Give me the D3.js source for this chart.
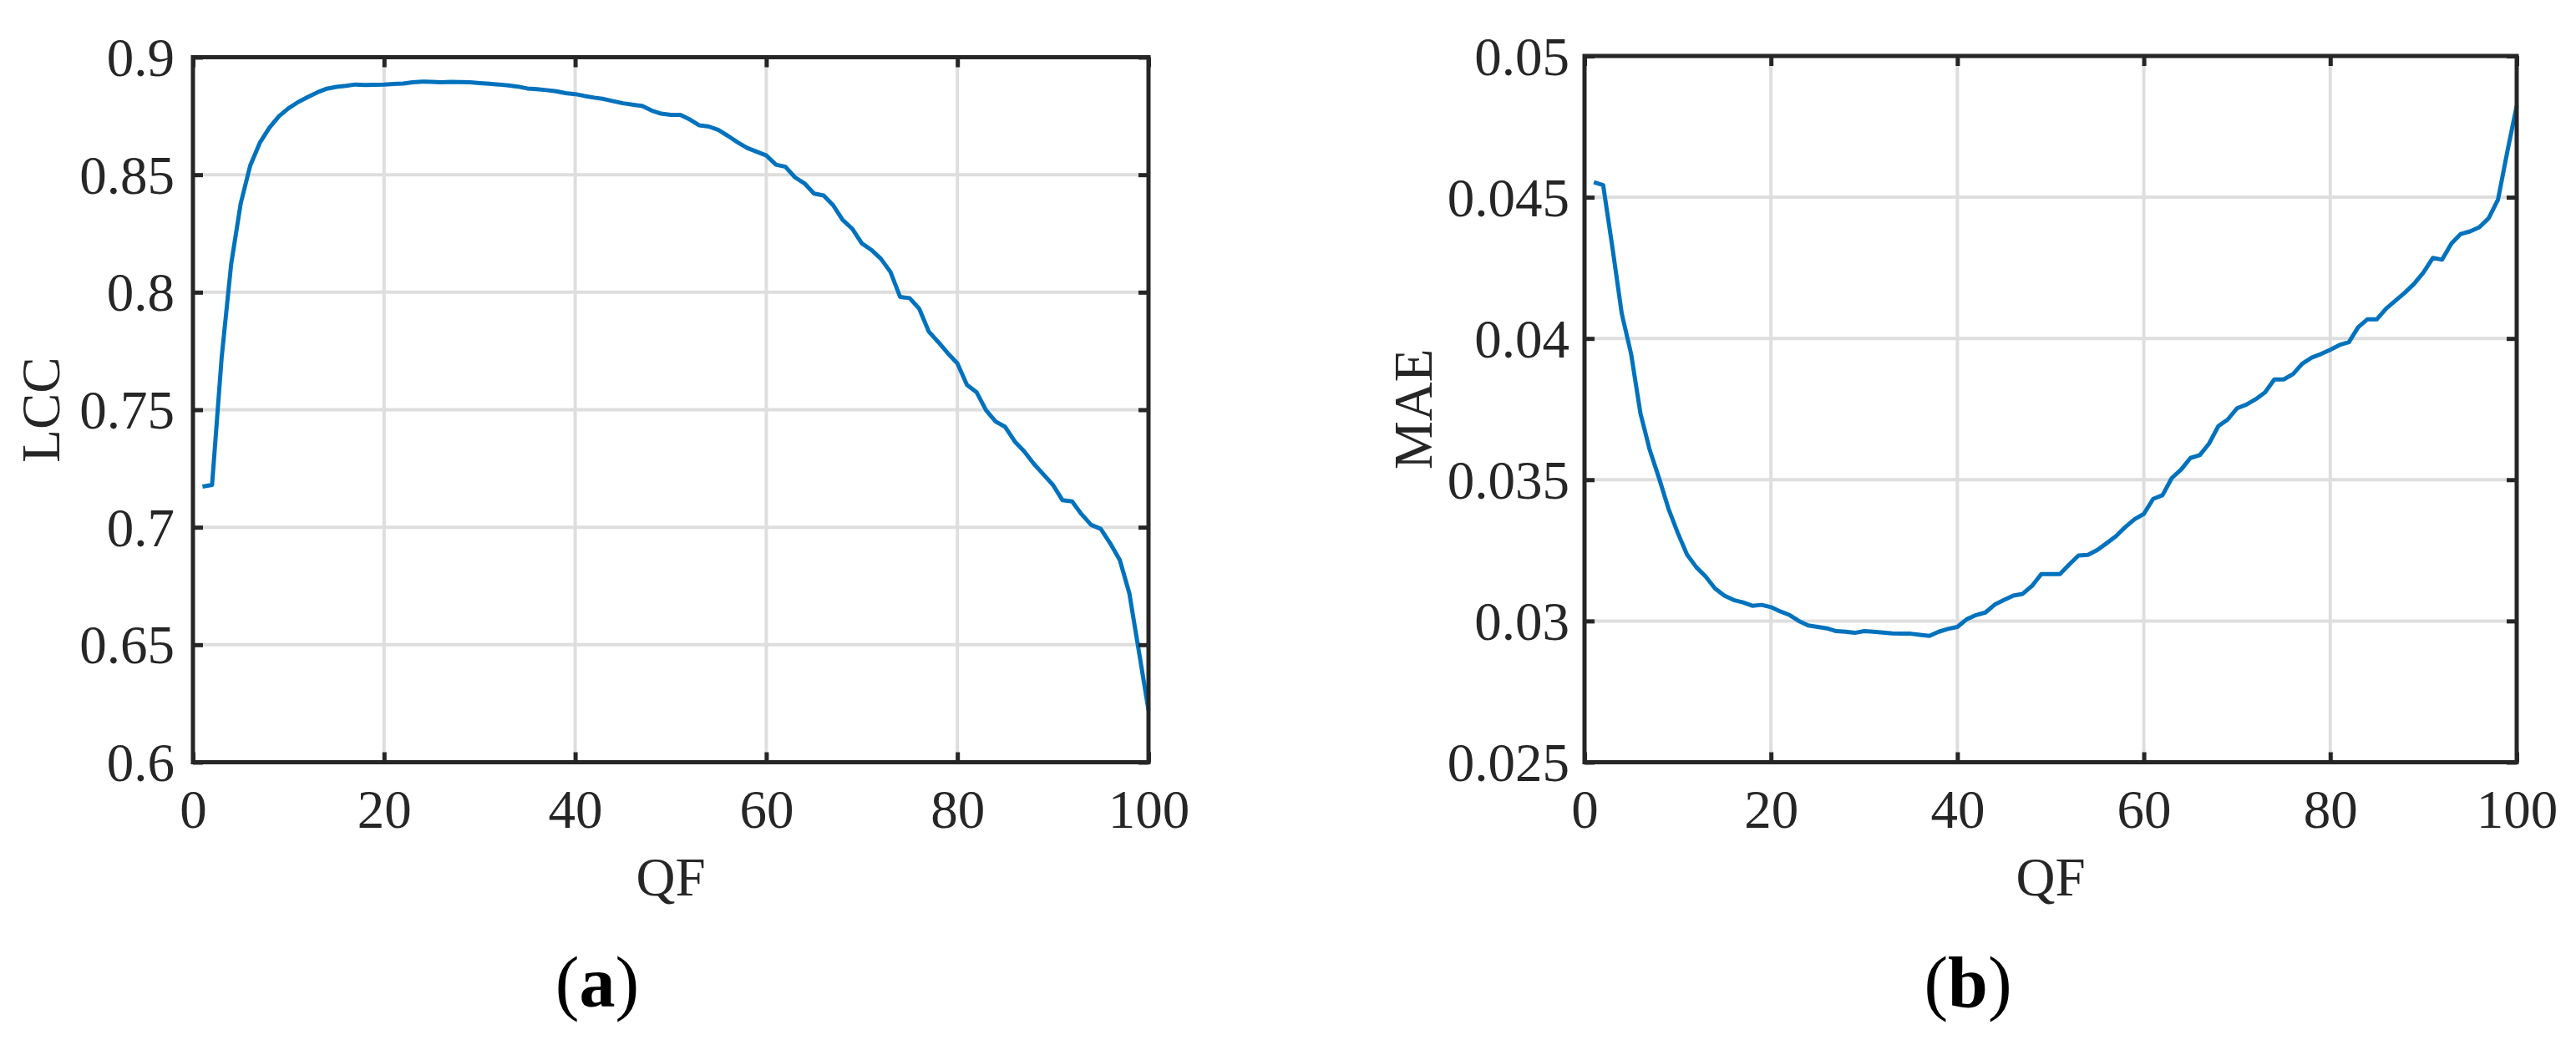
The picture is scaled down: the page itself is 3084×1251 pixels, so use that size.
<!DOCTYPE html>
<html>
  <head>
    <meta charset="utf-8">
    <title>LCC and MAE versus QF</title>
    <script src="https://d3js.org/d3.v7.min.js"></script>
    <style>
      body {
        margin: 0;
        background: #fff;
      }
      text {
        font-family: "Liberation Serif", "Times New Roman", serif;
        fill: #262626;
      }
      .grid line {
        stroke: #dedede;
        stroke-width: 4;
      }
      .axis line {
        stroke: #262626;
        stroke-width: 5;
      }
      .axis path {
        display: none;
      }
      .axis text {
        font-size: 65px;
      }
      .box {
        fill: none;
        stroke: #262626;
        stroke-width: 5;
      }
      .curve {
        fill: none;
        stroke: #0072bd;
        stroke-width: 5;
        stroke-linejoin: round;
      }
    </style>
  </head>
  <body>
    <script>
      // quality factor, one sample per integer step 1..100
      var qf = d3.range(1, 101);

      // (a) linear correlation coefficient
      var lcc = [
        0.7173, 0.7180, 0.7720, 0.8120, 0.8378, 0.8540, 0.8636, 0.8700, 0.8749, 0.8783,
        0.8809, 0.8830, 0.8850, 0.8866, 0.8874, 0.8878, 0.8884, 0.8882, 0.8883, 0.8884,
        0.8886, 0.8888, 0.8893, 0.8896, 0.8895, 0.8893, 0.8895, 0.8894, 0.8893, 0.8890,
        0.8887, 0.8884, 0.8880, 0.8875, 0.8867, 0.8864, 0.8860, 0.8855, 0.8847, 0.8843,
        0.8835, 0.8828, 0.8822, 0.8813, 0.8804, 0.8798, 0.8793, 0.8773, 0.8760, 0.8755,
        0.8755, 0.8735, 0.8710, 0.8705, 0.8690, 0.8665, 0.8638, 0.8614, 0.8598, 0.8582,
        0.8543, 0.8534, 0.8489, 0.8463, 0.8420, 0.8412, 0.8370, 0.8307, 0.8270, 0.8208,
        0.8180, 0.8142, 0.8086, 0.7980, 0.7975, 0.7930, 0.7833, 0.7788, 0.7740, 0.7697,
        0.7606, 0.7575, 0.7498, 0.7450, 0.7427, 0.7365, 0.7322, 0.7270, 0.7225, 0.7180,
        0.7115, 0.7110, 0.7055, 0.7010, 0.6993, 0.6931, 0.6860, 0.6718, 0.6470, 0.6222
      ];

      // (b) mean absolute error
      var mae = [
        0.04553, 0.04543, 0.04320, 0.04087, 0.03945, 0.03735, 0.03605, 0.03505, 0.03398, 0.03312,
        0.03235, 0.03190, 0.03157, 0.03115, 0.03090, 0.03074, 0.03066, 0.03054, 0.03057, 0.03049,
        0.03034, 0.03021, 0.03000, 0.02984, 0.02979, 0.02974, 0.02964, 0.02962, 0.02958, 0.02964,
        0.02962, 0.02959, 0.02956, 0.02955, 0.02955, 0.02951, 0.02947, 0.02962, 0.02972, 0.02979,
        0.03006, 0.03021, 0.03030, 0.03058, 0.03074, 0.03090, 0.03096, 0.03124, 0.03166, 0.03166,
        0.03166, 0.03200, 0.03232, 0.03234, 0.03251, 0.03275, 0.03300, 0.03332, 0.03360, 0.03379,
        0.03432, 0.03445, 0.03506, 0.03536, 0.03577, 0.03587, 0.03628, 0.03690, 0.03713, 0.03753,
        0.03766, 0.03785, 0.03809, 0.03855, 0.03855, 0.03874, 0.03911, 0.03932, 0.03945, 0.03960,
        0.03977, 0.03987, 0.04040, 0.04068, 0.04068, 0.04106, 0.04134, 0.04162, 0.04194, 0.04234,
        0.04285, 0.04279, 0.04336, 0.04370, 0.04379, 0.04394, 0.04426, 0.04492, 0.04662, 0.04823
      ];

      // tick values
      var qfTicks = [0, 20, 40, 60, 80, 100];
      var lccTicks = [0.6, 0.65, 0.7, 0.75, 0.8, 0.85, 0.9];
      var maeTicks = [0.025, 0.03, 0.035, 0.04, 0.045, 0.05];

      var svg = d3.select("body").append("svg")
        .attr("width", 3084)
        .attr("height", 1251);

      // one matlab-like panel
      function drawPanel(p) {
        var x = d3.scaleLinear().domain([0, 100]).range([p.left, p.right]);
        var y = d3.scaleLinear().domain([p.yTicks[0], p.yTicks[p.yTicks.length - 1]])
          .range([p.bottom, p.top]);
        var g = svg.append("g");
        var fmt = function (d) { return String(+d.toFixed(3)); };

        // grid
        var grid = g.append("g").attr("class", "grid");
        grid.selectAll(".gx")
          .data(qfTicks)
          .enter().append("line")
          .attr("x1", function (d) { return x(d); })
          .attr("x2", function (d) { return x(d); })
          .attr("y1", p.top)
          .attr("y2", p.bottom);
        grid.selectAll(".gy")
          .data(p.yTicks)
          .enter().append("line")
          .attr("x1", p.left)
          .attr("x2", p.right)
          .attr("y1", function (d) { return y(d); })
          .attr("y2", function (d) { return y(d); });

        // data line
        var line = d3.line()
          .x(function (d, i) { return x(qf[i]); })
          .y(function (d) { return y(d); });
        g.append("path")
          .datum(p.values)
          .attr("class", "curve")
          .attr("d", line);

        // ticks on all four sides, pointing inward
        g.append("g")
          .attr("class", "axis")
          .attr("transform", "translate(0," + p.bottom + ")")
          .call(d3.axisBottom(x).tickValues(qfTicks).tickSize(-12).tickSizeOuter(0))
          .call(function (a) {
            a.selectAll("text").attr("y", 78).attr("dy", null);
          });
        g.append("g")
          .attr("class", "axis")
          .attr("transform", "translate(0," + p.top + ")")
          .call(d3.axisTop(x).tickValues(qfTicks).tickSize(-12).tickSizeOuter(0).tickFormat(""));
        g.append("g")
          .attr("class", "axis")
          .attr("transform", "translate(" + p.left + ",0)")
          .call(d3.axisLeft(y).tickValues(p.yTicks).tickSize(-12).tickSizeOuter(0).tickFormat(fmt))
          .call(function (a) {
            a.selectAll("text").attr("x", -p.labelGap).attr("dy", "0.34em");
          });
        g.append("g")
          .attr("class", "axis")
          .attr("transform", "translate(" + p.right + ",0)")
          .call(d3.axisRight(y).tickValues(p.yTicks).tickSize(-12).tickSizeOuter(0).tickFormat(""));

        // box
        g.append("rect")
          .attr("class", "box")
          .attr("x", p.left)
          .attr("y", p.top)
          .attr("width", p.right - p.left)
          .attr("height", p.bottom - p.top);

        // axis titles
        g.append("text")
          .attr("x", (p.left + p.right) / 2)
          .attr("y", 1072)
          .attr("text-anchor", "middle")
          .style("font-size", "65px")
          .text("QF");
        g.append("text")
          .attr("transform", "translate(" + p.yTitleX + "," + (p.top + p.bottom) / 2 + ") rotate(-90)")
          .attr("text-anchor", "middle")
          .style("font-size", "65px")
          .text(p.yTitle);

        // panel tag like (a)
        var tag = g.append("text")
          .attr("x", p.tagX)
          .attr("y", 1205)
          .attr("text-anchor", "middle")
          .style("font-size", "86px")
          .style("fill", "#000");
        tag.append("tspan").text("(");
        tag.append("tspan").style("font-weight", "bold").text(p.tag);
        tag.append("tspan").text(")");
      }

      drawPanel({
        values: lcc, yTicks: lccTicks, yTitle: "LCC", tag: "a",
        left: 231, right: 1375, top: 68.5, bottom: 912.5,
        labelGap: 22, yTitleX: 71, tagX: 715
      });

      drawPanel({
        values: mae, yTicks: maeTicks, yTitle: "MAE", tag: "b",
        left: 1897, right: 3013, top: 67, bottom: 912.5,
        labelGap: 18, yTitleX: 1714, tagX: 2356
      });
    </script>
  </body>
</html>
